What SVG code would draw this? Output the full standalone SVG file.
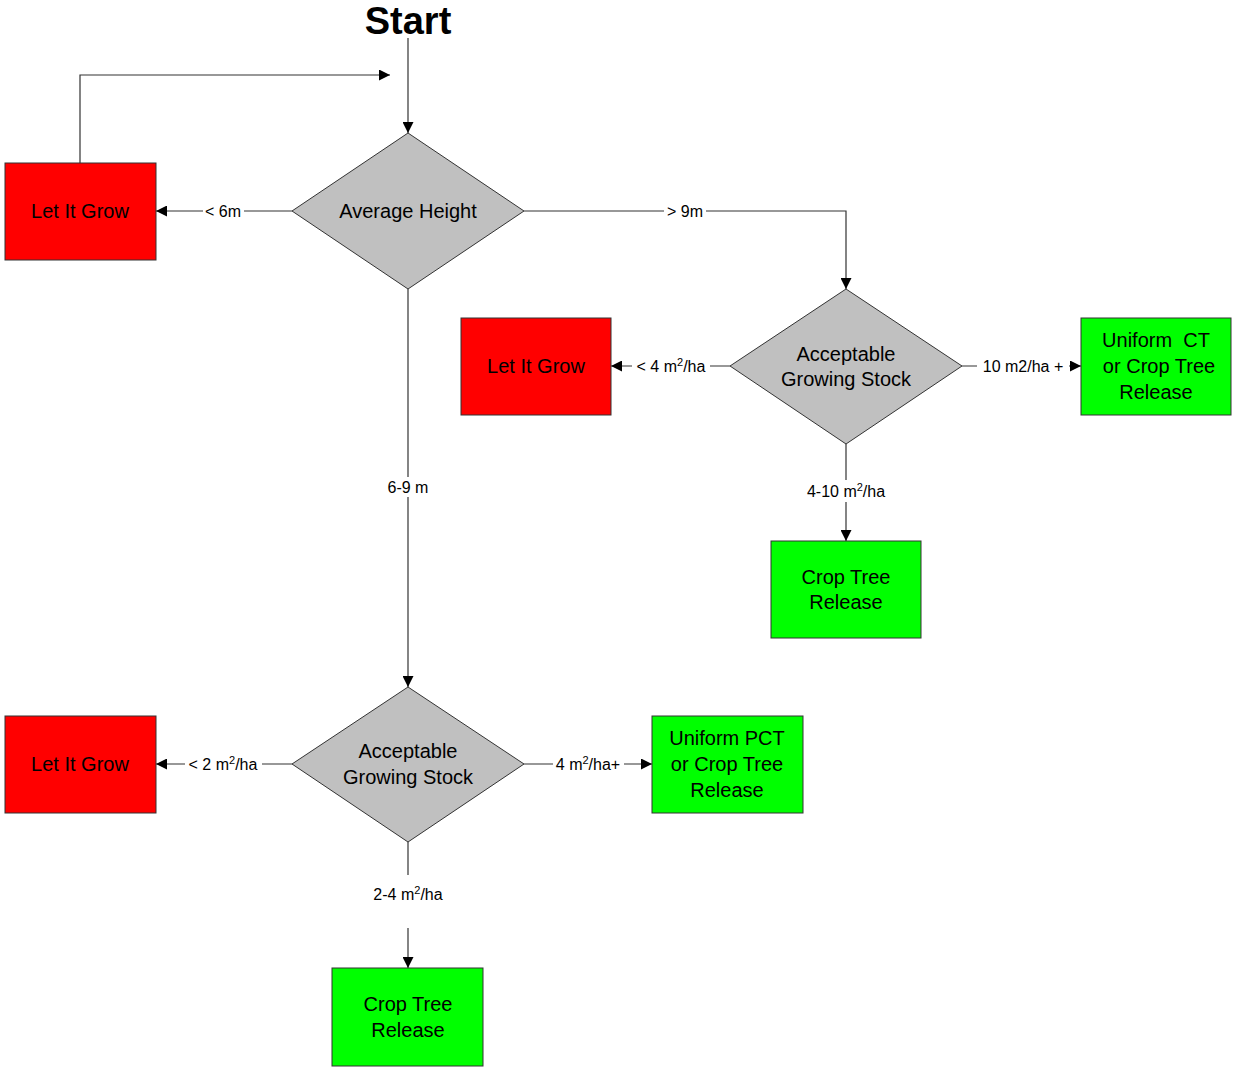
<svg xmlns="http://www.w3.org/2000/svg" width="1233" height="1067" viewBox="0 0 1233 1067">
<defs>
<marker id="arr" viewBox="0 0 10 10" refX="10" refY="5" markerWidth="11" markerHeight="11" markerUnits="userSpaceOnUse" orient="auto"><path d="M0,0 L10,5 L0,10 z" fill="#000"/></marker>
<style>
.red{fill:#ff0000;stroke:#333;stroke-width:1}
.grn{fill:#00ff00;stroke:#333;stroke-width:1}
.dia{fill:#c0c0c0;stroke:#333;stroke-width:1}
.t{font-family:"Liberation Sans",Arial,sans-serif;font-size:20px;fill:#000;text-anchor:middle}
.l{font-family:"Liberation Sans",Arial,sans-serif;font-size:16px;fill:#000;text-anchor:middle}
.c{fill:none;stroke:#333;stroke-width:1.2}
.a{fill:none;stroke:#333;stroke-width:1.2;marker-end:url(#arr)}
.bg{fill:#fff}
</style>
</defs>
<rect width="1233" height="1067" fill="#fff"/>
<g id="start"><text x="408" y="34" class="t" style="font-size:38px;font-weight:bold">Start</text></g>
<g id="connectors">
<path class="a" d="M408,38 V133"/>
<path class="a" d="M80,163 V75 H390"/>
<path class="a" d="M292,211 H156"/>
<path class="a" d="M524,211 H846 V289"/>
<path class="a" d="M408,289 V687"/>
<path class="a" d="M730,366 H611"/>
<path class="a" d="M962,366 H1081"/>
<path class="a" d="M846,444 V541"/>
<path class="a" d="M292,764 H156"/>
<path class="a" d="M524,764 H652"/>
<path class="c" d="M408,842 V875"/>
<path class="a" d="M408,928 V968"/>
<rect class="bg" x="203" y="201" width="41" height="20"/>
<text class="l" x="223" y="217">&lt; 6m</text>
<rect class="bg" x="664" y="201" width="42" height="20"/>
<text class="l" x="685" y="217">&gt; 9m</text>
<rect class="bg" x="384" y="477" width="48" height="20"/>
<text class="l" x="408" y="493">6-9 m</text>
<rect class="bg" x="632" y="355" width="78" height="22"/>
<text class="l" x="671" y="372">&lt; 4 m<tspan dy="-6" font-size="11">2</tspan><tspan dy="6">/ha</tspan></text>
<rect class="bg" x="977" y="355" width="92" height="22"/>
<text class="l" x="1023" y="372">10 m2/ha +</text>
<rect class="bg" x="802" y="480" width="88" height="22"/>
<text class="l" x="846" y="497">4-10 m<tspan dy="-6" font-size="11">2</tspan><tspan dy="6">/ha</tspan></text>
<rect class="bg" x="185" y="753" width="77" height="22"/>
<text class="l" x="223" y="770">&lt; 2 m<tspan dy="-6" font-size="11">2</tspan><tspan dy="6">/ha</tspan></text>
<rect class="bg" x="553" y="753" width="71" height="22"/>
<text class="l" x="588" y="770">4 m<tspan dy="-6" font-size="11">2</tspan><tspan dy="6">/ha+</tspan></text>
<text class="l" x="408" y="900">2-4 m<tspan dy="-6" font-size="11">2</tspan><tspan dy="6">/ha</tspan></text>
</g>
<g id="avg-height"><path class="dia" d="M408,133 L524,211 L408,289 L292,211 z"/><text class="t" x="408" y="218">Average Height</text></g>
<g id="let-grow-1"><rect class="red" x="5" y="163" width="151" height="97"/><text class="t" x="80" y="218">Let It Grow</text></g>
<g id="ags-1"><path class="dia" d="M846,289 L962,366 L846,444 L730,366 z"/><text class="t" x="846" y="361">Acceptable</text><text class="t" x="846" y="386">Growing Stock</text></g>
<g id="let-grow-2"><rect class="red" x="461" y="318" width="150" height="97"/><text class="t" x="536" y="373">Let It Grow</text></g>
<g id="uniform-ct"><rect class="grn" x="1081" y="318" width="150" height="97"/><text class="t" x="1156" y="347">Uniform&#160; CT</text><text class="t" x="1159" y="373">or Crop Tree</text><text class="t" x="1156" y="399">Release</text></g>
<g id="ctr-1"><rect class="grn" x="771" y="541" width="150" height="97"/><text class="t" x="846" y="584">Crop Tree</text><text class="t" x="846" y="609">Release</text></g>
<g id="ags-2"><path class="dia" d="M408,687 L524,764 L408,842 L292,764 z"/><text class="t" x="408" y="758">Acceptable</text><text class="t" x="408" y="784">Growing Stock</text></g>
<g id="let-grow-3"><rect class="red" x="5" y="716" width="151" height="97"/><text class="t" x="80" y="771">Let It Grow</text></g>
<g id="uniform-pct"><rect class="grn" x="652" y="716" width="151" height="97"/><text class="t" x="727" y="745">Uniform PCT</text><text class="t" x="727" y="771">or Crop Tree</text><text class="t" x="727" y="797">Release</text></g>
<g id="ctr-2"><rect class="grn" x="332" y="968" width="151" height="98"/><text class="t" x="408" y="1011">Crop Tree</text><text class="t" x="408" y="1037">Release</text></g>
</svg>
